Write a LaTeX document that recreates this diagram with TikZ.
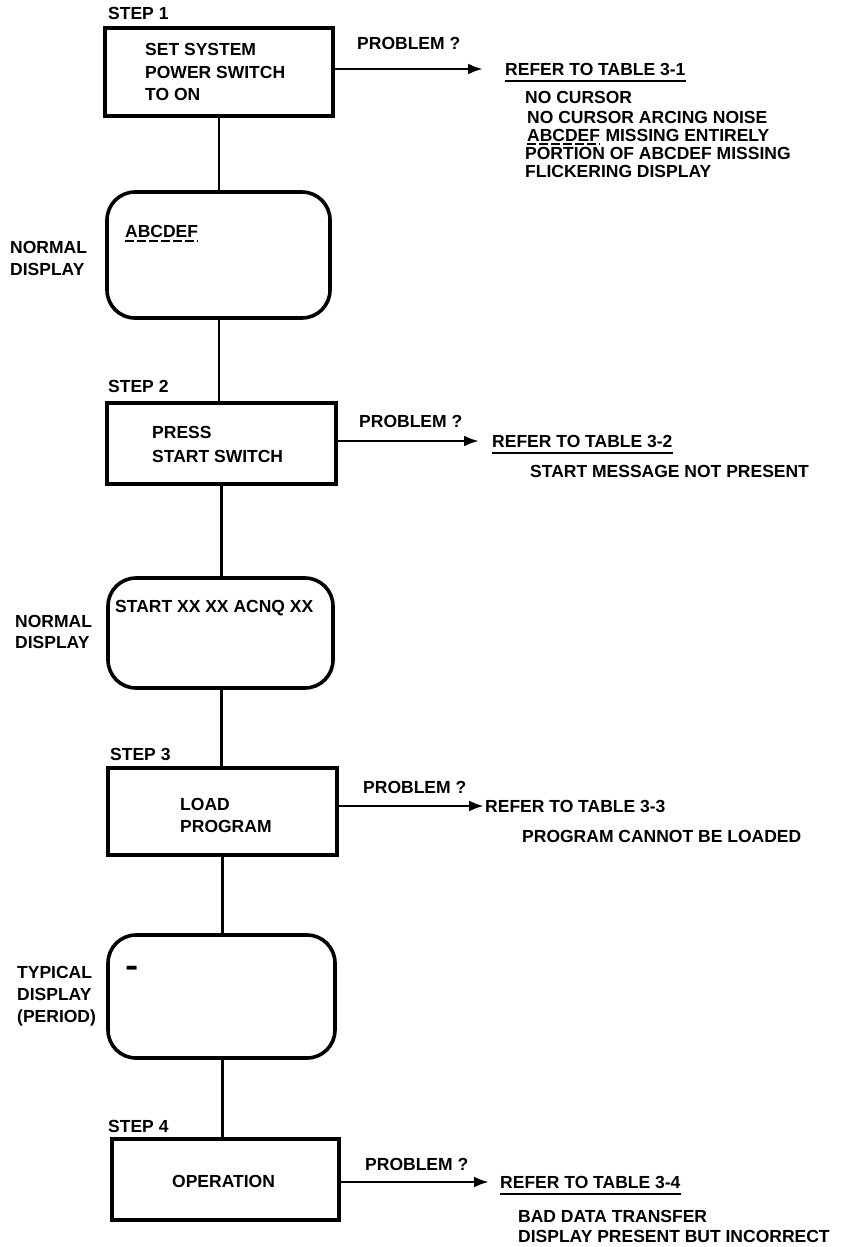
\documentclass[tikz,border=0pt]{standalone}
\usepackage{fontspec}
\setmainfont{Liberation Sans}
\usetikzlibrary{arrows.meta}
\begin{document}
\begin{tikzpicture}[x=1pt,y=-1pt,
  lbl/.style={font=\bfseries\fontsize{17.5}{20}\selectfont, inner sep=0pt, anchor=base west},
  stepbox/.style={draw, line width=3.4pt, inner sep=0pt},
  dispbox/.style={draw, line width=3.6pt, rounded corners=28pt, inner sep=0pt},
  conn/.style={line width=2.8pt},
  arr/.style={line width=2.8pt, -{Latex[length=15pt,width=11pt]}},
  uline/.style={line width=2pt},
  duline/.style={line width=1.8pt, dash pattern=on 9pt off 3pt}]
\useasboundingbox (0,0) rectangle (856,1247);

% ---------- STEP 1
\node[lbl] (s1) at (108,20) {STEP 1};
\node[stepbox, minimum width=228pt, minimum height=88pt] (b1) at (219,72) {};
\node[lbl] (b1t1) at (145,56) {SET SYSTEM};
\node[lbl] (b1t2) at (145,78) {POWER SWITCH};
\node[lbl] (b1t3) at (145,100) {TO ON};
\node[lbl] (p1) at (357,50) {PROBLEM ?};
\node[lbl] (r1) at (505,75) {REFER TO TABLE 3-1};
\draw[uline] ([yshift=-6pt]r1.base west) -- ([yshift=-6pt]r1.base east);
\node[lbl] (l11) at (525,103) {NO CURSOR};
\node[lbl] (l12) at (527,123) {NO CURSOR ARCING NOISE};
\node[lbl] (l13a) at (527,141) {ABCDEF};
\node[lbl, anchor=base west] (l13b) at ([xshift=5pt]l13a.base east) {MISSING ENTIRELY};
\draw[duline] ([yshift=-3pt]l13a.base west) -- ([yshift=-3pt]l13a.base east);
\node[lbl] (l14) at (525,159) {PORTION OF ABCDEF MISSING};
\node[lbl] (l15) at (525,177) {FLICKERING DISPLAY};
\draw[arr, shorten >=22pt] (b1.east |- r1.west) -- (r1.west);

% ---------- display 1
\node[dispbox, minimum width=223pt, minimum height=126pt] (d1) at (218.5,255) {};
\node[lbl] (d1t) at (125,237) {ABCDEF};
\draw[duline] ([yshift=-4pt]d1t.base west) -- ([yshift=-4pt]d1t.base east);
\node[lbl] (n1a) at (10,253) {NORMAL};
\node[lbl] (n1b) at (10,275) {DISPLAY};
\draw[conn] (b1.south) -- (b1.south |- d1.north);

% ---------- STEP 2
\node[lbl] (s2) at (108,392) {STEP 2};
\node[stepbox, minimum width=229pt, minimum height=81pt] (b2) at (221.5,443.5) {};
\node[lbl] (b2t1) at (152,438) {PRESS};
\node[lbl] (b2t2) at (152,462) {START SWITCH};
\node[lbl] (p2) at (359,427) {PROBLEM ?};
\node[lbl] (r2) at (492,447) {REFER TO TABLE 3-2};
\draw[uline] ([yshift=-6pt]r2.base west) -- ([yshift=-6pt]r2.base east);
\node[lbl] (l21) at (530,477) {START MESSAGE NOT PRESENT};
\draw[arr, shorten >=13pt] (b2.east |- r2.west) -- (r2.west);
\draw[conn] (d1.south -| b1.south) -- (b1.south |- b2.north);

% ---------- display 2
\node[dispbox, minimum width=225pt, minimum height=110pt] (d2) at (220.5,633) {};
\node[lbl] (d2t) at (115,612) {START XX XX ACNQ XX};
\node[lbl] (n2a) at (15,627) {NORMAL};
\node[lbl] (n2b) at (15,648) {DISPLAY};
\draw[conn] (b2.south) -- (b2.south |- d2.north);

% ---------- STEP 3
\node[lbl] (s3) at (110,760) {STEP 3};
\node[stepbox, minimum width=229pt, minimum height=87pt] (b3) at (222.5,811.5) {};
\node[lbl] (b3t1) at (180,810) {LOAD};
\node[lbl] (b3t2) at (180,832) {PROGRAM};
\node[lbl] (p3) at (363,793) {PROBLEM ?};
\node[lbl] (r3) at (485,812) {REFER TO TABLE 3-3};
\node[lbl] (l31) at (522,842) {PROGRAM CANNOT BE LOADED};
\draw[arr, shorten >=1pt] (b3.east |- r3.west) -- (r3.west);
\draw[conn] (d2.south -| b2.south) -- (b2.south |- b3.north);

% ---------- display 3
\node[dispbox, minimum width=227pt, minimum height=123pt] (d3) at (221.5,996.5) {};
\node[lbl, anchor=center] (d3t) at (132.5,972) {\scalebox{1.15}[2.2]{–}};
\node[lbl] (n3a) at (17,978) {TYPICAL};
\node[lbl] (n3b) at (17,1000) {DISPLAY};
\node[lbl] (n3c) at (17,1022) {(PERIOD)};
\draw[conn] (b3.south) -- (b3.south |- d3.north);

% ---------- STEP 4
\node[lbl] (s4) at (108,1132) {STEP 4};
\node[stepbox, minimum width=227pt, minimum height=81pt] (b4) at (225.5,1179.5) {};
\node[lbl] (b4t) at (172,1187) {OPERATION};
\node[lbl] (p4) at (365,1170) {PROBLEM ?};
\node[lbl] (r4) at (500,1188) {REFER TO TABLE 3-4};
\draw[uline] ([yshift=-6pt]r4.base west) -- ([yshift=-6pt]r4.base east);
\node[lbl] (l41) at (518,1222) {BAD DATA TRANSFER};
\node[lbl] (l42) at (518,1242) {DISPLAY PRESENT BUT INCORRECT};
\draw[arr, shorten >=11pt] (b4.east |- r4.west) -- (r4.west);
\draw[conn] (d3.south -| b3.south) -- (b3.south |- b4.north);
\end{tikzpicture}
\end{document}
